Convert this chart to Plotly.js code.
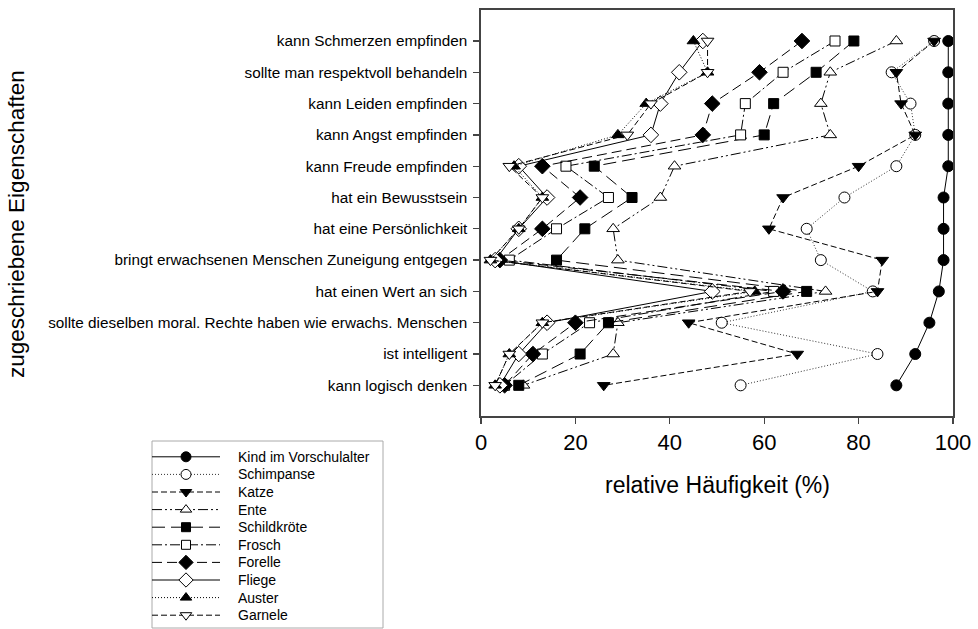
<!DOCTYPE html>
<html><head><meta charset="utf-8">
<script src="https://cdn.plot.ly/plotly-3.0.1.min.js"></script>
<style>html,body{margin:0;padding:0;background:#fff}</style>
</head><body>
<div id="chart" style="width:978px;height:629px"></div>
<script>
const categories = [
  "kann Schmerzen empfinden",
  "sollte man respektvoll behandeln",
  "kann Leiden empfinden",
  "kann Angst empfinden",
  "kann Freude empfinden",
  "hat ein Bewusstsein",
  "hat eine Persönlichkeit",
  "bringt erwachsenen Menschen Zuneigung entgegen",
  "hat einen Wert an sich",
  "sollte dieselben moral. Rechte haben wie erwachs. Menschen",
  "ist intelligent",
  "kann logisch denken"
];
const seriesNames = ["Kind im Vorschulalter","Schimpanse","Katze","Ente","Schildkröte","Frosch","Forelle","Fliege","Auster","Garnele"];
const kind        = [99,99,99,99,99,98,98,98,97,95,92,88];
const schimpanse  = [96,87,91,92,88,77,69,72,83,51,84,55];
const katze       = [96,88,89,92,80,64,61,85,84,44,67,26];
const ente        = [88,74,72,74,41,38,28,29,73,29,28,9];
const schildkroete= [79,71,62,60,24,32,22,16,69,27,21,8];
const frosch      = [75,64,56,55,18,27,16,6,62,23,13,5];
const forelle     = [68,59,49,47,13,21,13,4,64,20,11,5];
const fliege      = [47,42,38,36,8,14,8,3,49,14,8,4];
const auster      = [45,48,35,29,7,13,8,2,58,13,6,3];
const garnele     = [48,48,36,31,6,13,8,2,57,13,6,3];
const values = [kind,schimpanse,katze,ente,schildkroete,frosch,forelle,fliege,auster,garnele];
const xTicks = [0,20,40,60,80,100];

const W = 978, H = 629;
const px = x => x / W, py = y => 1 - y / H;
const FONT = 'Liberation Sans, Arial, sans-serif';

const styles = [
  {sym:'circle', fill:'black', size:11, dash:'solid'},
  {sym:'circle', fill:'white', size:11, dash:'1px,2px'},
  {sym:'triangle-down', fill:'black', size:11, dash:'6px,3px'},
  {sym:'triangle-up', fill:'white', size:11, dash:'10px,3px,2px,3px,2px,3px'},
  {sym:'square', fill:'black', size:10, dash:'13px,6px'},
  {sym:'square', fill:'white', size:10, dash:'10px,3px,2px,3px'},
  {sym:'diamond', fill:'black', size:12, dash:'10px,5px'},
  {sym:'diamond', fill:'white', size:12, dash:'solid'},
  {sym:'triangle-up', fill:'black', size:11, dash:'1px,2px'},
  {sym:'triangle-down', fill:'white', size:11, dash:'6px,3px'}
];

const traces = [];
values.forEach((vals, i) => {
  const s = styles[i];
  traces.push({
    type:'scatter', mode:'lines+markers', name: seriesNames[i],
    x: vals, y: categories, xaxis:'x', yaxis:'y', showlegend:false,
    line:{color: i===1 ? '#333' : 'black', width:1, dash:s.dash},
    marker:{symbol:s.sym, color:s.fill, size:s.size, line:{color:'black', width:1}},
    hoverinfo:'x+y+name'
  });
});
// legend samples
const annotations = [];
seriesNames.forEach((nm, i) => {
  const s = styles[i];
  traces.push({
    type:'scatter', mode:'lines', x:[0,1], y:[i,i],
    xaxis:'x2', yaxis:'y2', showlegend:false, hoverinfo:'skip',
    line:{color: i===1 ? '#333' : 'black', width:1, dash:s.dash}
  });
  traces.push({
    type:'scatter', mode:'markers', x:[0.5], y:[i],
    xaxis:'x2', yaxis:'y2', showlegend:false, hoverinfo:'skip',
    marker:{symbol:s.sym, color:s.fill, size:s.size-1, line:{color:'black', width:1}}
  });
  annotations.push({
    xref:'paper', yref:'y2', x:px(236), y:i, text:nm, showarrow:false,
    xanchor:'left', yanchor:'middle',
    font:{family:FONT, size:14, color:'#000'}
  });
});
annotations.push({
  xref:'paper', yref:'paper', x:px(17), y:py(224), text:'zugeschriebene Eigenschaften',
  textangle:-90, showarrow:false, xanchor:'center', yanchor:'middle',
  font:{family:FONT, size:22.5, color:'#000'}
});
annotations.push({
  xref:'paper', yref:'paper', x:px(717), y:py(485), text:'relative Häufigkeit (%)',
  showarrow:false, xanchor:'center', yanchor:'middle',
  font:{family:FONT, size:23, color:'#000'}
});

const layout = {
  width:W, height:H, margin:{l:0,r:0,t:0,b:0},
  paper_bgcolor:'white', plot_bgcolor:'white', showlegend:false,
  font:{family:FONT, color:'#000'},
  xaxis:{domain:[px(481), px(953)], range:[0,100], tickvals:xTicks, ticks:'outside', ticklen:6,
    tickcolor:'#444', tickwidth:1.3, showline:true, linecolor:'#444', linewidth:1.6, mirror:true,
    showgrid:false, zeroline:false, tickfont:{size:22, color:'#000'}, anchor:'y', fixedrange:true},
  yaxis:{domain:[py(416), py(10)], type:'category', categoryarray:categories, range:[11.98,-0.99],
    ticks:'outside', ticklen:6, tickcolor:'#444', tickwidth:1.3, showline:true, linecolor:'#444',
    linewidth:1.6, mirror:true, showgrid:false, zeroline:false, tickfont:{size:15.3, color:'#000'},
    ticklabelstandoff:3, anchor:'x', fixedrange:true},
  xaxis2:{domain:[px(152), px(220)], range:[0,1], visible:false, anchor:'y2', fixedrange:true},
  yaxis2:{domain:[py(624), py(448)], range:[9.5,-0.5], visible:false, anchor:'x2', fixedrange:true},
  shapes:[{type:'rect', xref:'paper', yref:'paper', x0:px(152), x1:px(383), y0:py(441), y1:py(628),
    line:{color:'#aaa', width:1}, fillcolor:'rgba(0,0,0,0)', layer:'below'}],
  annotations:annotations
};
Plotly.newPlot('chart', traces, layout, {displayModeBar:false, staticPlot:true});
</script>
</body></html>
